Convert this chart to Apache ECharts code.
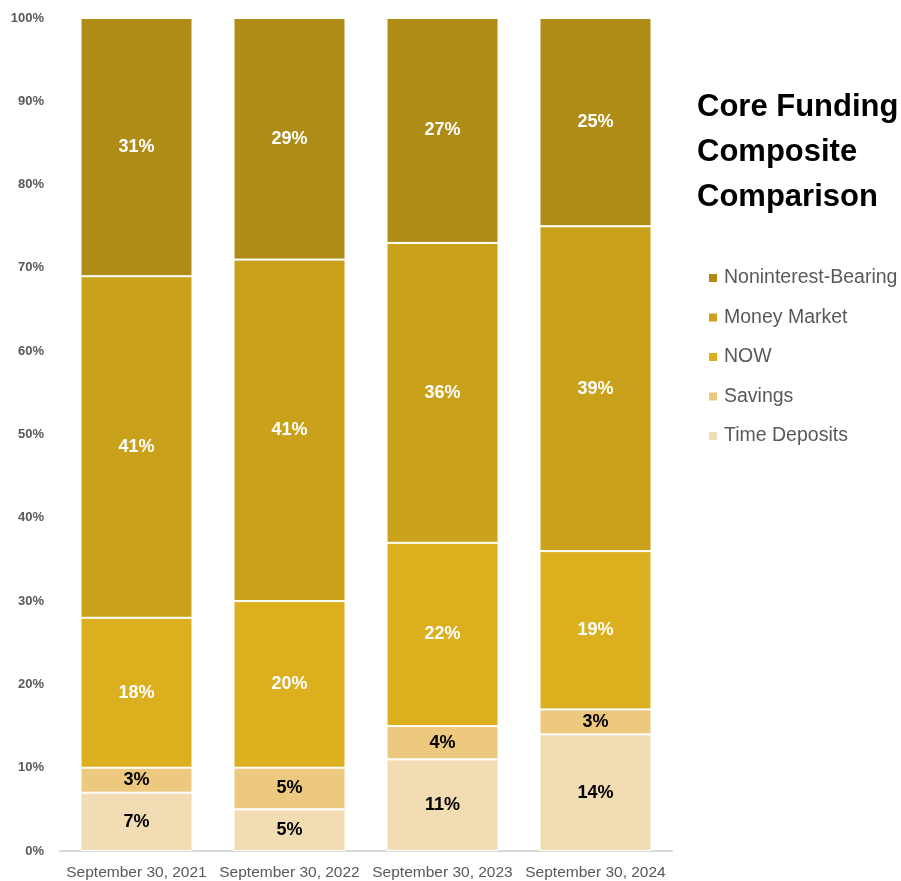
<!DOCTYPE html>
<html>
<head>
<meta charset="utf-8">
<script src="https://cdn.jsdelivr.net/npm/echarts@6/dist/echarts.min.js"></script>
<style>
  html, body { margin: 0; padding: 0; background: #fff; }
  #chart { width: 901px; height: 881px; }
</style>
</head>
<body>
<div id="chart"></div>
<script>
// Period labels along the x axis
const periods = ['September 30, 2021', 'September 30, 2022', 'September 30, 2023', 'September 30, 2024'];

// Share of core funding (%) by deposit type, bottom to top of each stack
const timeDeposits = [7, 5, 11, 14];
const savings = [3, 5, 4, 3];
const now = [18, 20, 22, 19];
const moneyMarket = [41, 41, 36, 39];
const noninterestBearing = [31, 29, 27, 25];

const FONT = '"Liberation Sans", Arial, sans-serif';

function stackSeries(name, data, color, labelColor) {
  return {
    name: name,
    type: 'bar',
    stack: 'total',
    data: data,
    barWidth: 112,
    itemStyle: { color: color, borderColor: '#ffffff', borderWidth: 1 },
    label: {
      show: true,
      position: 'inside',
      formatter: p => p.value + '%',
      color: labelColor,
      fontFamily: FONT,
      fontWeight: 'bold',
      fontSize: 18
    },
    emphasis: { disabled: true }
  };
}

const chart = echarts.init(document.getElementById('chart'), null, { renderer: 'canvas' });
chart.setOption({
  animation: false,
  title: {
    text: 'Core Funding\nComposite\nComparison',
    left: 697,
    top: 85,
    padding: 0,
    textStyle: {
      fontFamily: FONT,
      fontWeight: 'bold',
      fontSize: 31,
      lineHeight: 45,
      color: '#000000'
    }
  },
  legend: {
    orient: 'vertical',
    left: 707,
    top: 268,
    padding: 0,
    itemWidth: 10,
    itemHeight: 10,
    itemGap: 19.5,
    icon: 'rect',
    data: ['Noninterest-Bearing', 'Money Market', 'NOW', 'Savings', 'Time Deposits'],
    textStyle: { fontFamily: FONT, fontSize: 19.5, color: '#595959', padding: [0, 0, 0, 1] }
  },
  grid: { left: 60, right: 229, top: 18, bottom: 30 },
  xAxis: {
    type: 'category',
    data: periods,
    axisTick: { show: false },
    axisLine: { lineStyle: { color: '#d9d9d9', width: 2 } },
    axisLabel: { fontFamily: FONT, fontSize: 15.5, color: '#595959', margin: 14, interval: 0 }
  },
  yAxis: {
    type: 'value',
    min: 0,
    max: 100,
    interval: 10,
    splitLine: { show: false },
    axisLine: { show: false },
    axisTick: { show: false },
    axisLabel: {
      formatter: v => v + '%',
      fontFamily: FONT,
      fontWeight: 'bold',
      fontSize: 13,
      color: '#595959',
      margin: 16
    }
  },
  series: [
    stackSeries('Time Deposits', timeDeposits, '#f2dcb4', '#000000'),
    stackSeries('Savings', savings, '#ecc97f', '#000000'),
    stackSeries('NOW', now, '#dcaf1e', '#ffffff'),
    stackSeries('Money Market', moneyMarket, '#c9a11b', '#ffffff'),
    stackSeries('Noninterest-Bearing', noninterestBearing, '#af8c16', '#ffffff')
  ]
});
</script>
</body>
</html>
